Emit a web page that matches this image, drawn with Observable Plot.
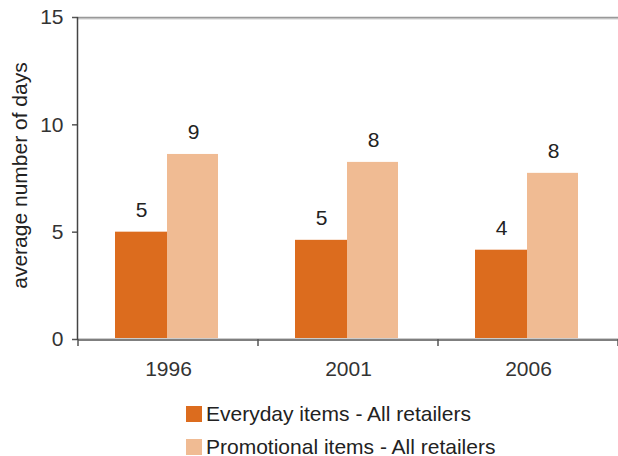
<!DOCTYPE html>
<html>
<head>
<meta charset="utf-8">
<script src="https://cdn.jsdelivr.net/npm/d3@7"></script>
<script src="https://cdn.jsdelivr.net/npm/@observablehq/plot@0.6"></script>
<style>
  html, body { margin: 0; padding: 0; background: #fff; }
  body { width: 618px; height: 456px; overflow: hidden; font-family: Arial, "Liberation Sans", sans-serif; }
  #legend { margin-left: 186px; padding-top: 13px; font-size: 21px; color: #222; }
  .row { display: flex; align-items: center; height: 33px; }
  .sw { width: 16px; height: 16px; margin-right: 4px; flex: none; }
</style>
</head>
<body>
<div id="chart"></div>
<div id="legend"></div>
<script>
const years = ["1996", "2001", "2006"];
const everyday = [5.0, 4.62, 4.16];
const promotional = [8.62, 8.25, 7.74];
const seriesNames = ["Everyday items - All retailers", "Promotional items - All retailers"];
const seriesColors = ["#dc6c1e", "#f0bb93"];
const yTicks = [0, 5, 10, 15];
const yLabel = "average number of days";

const rowsE = years.map((y, i) => ({year: y, value: everyday[i]}));
const rowsP = years.map((y, i) => ({year: y, value: promotional[i]}));

function bandAxis(index, scales, values, dimensions) {
  const g = d3.create("svg:g");
  const {width, height, marginLeft, marginRight, marginTop, marginBottom} = dimensions;
  const y0 = height - marginBottom;
  const bounds = years.map(d => scales.x(d)).concat([width - marginRight]);
  g.selectAll("line.tk").data(bounds).join("line")
    .attr("x1", d => d).attr("x2", d => d)
    .attr("y1", y0).attr("y2", y0 + 7)
    .attr("stroke", "#555").attr("stroke-width", 1.5);
  g.append("line")
    .attr("x1", marginLeft - 0.5).attr("x2", marginLeft - 0.5)
    .attr("y1", marginTop).attr("y2", y0 + 1)
    .attr("stroke", "#444").attr("stroke-width", 1.5);
  return g.node();
}

const chart = Plot.plot({
  width: 618,
  height: 384,
  marginLeft: 78,
  marginRight: 0,
  marginTop: 17,
  marginBottom: 45,
  style: {fontFamily: "Arial, 'Liberation Sans', sans-serif", color: "#333", background: "#fff"},
  x: {domain: years, padding: 0, label: null},
  y: {domain: [0, 15], ticks: yTicks, label: null},
  marks: [
    Plot.ruleY([15], {stroke: "#d0d0d0", strokeWidth: 2, dy: 1}),
    Plot.ruleY([15], {stroke: "#999", strokeWidth: 1.5}),
    Plot.barY(rowsE, {x: "year", y: "value", fill: seriesColors[0], insetLeft: 37, insetRight: 91}),
    Plot.barY(rowsP, {x: "year", y: "value", fill: seriesColors[1], insetLeft: 89, insetRight: 40}),
    Plot.ruleY([0], {stroke: "#ccc", strokeWidth: 1, dy: -1}),
    Plot.ruleY([0], {stroke: "#555", strokeWidth: 1.5, dy: 0.5}),
    Plot.text(rowsE, {x: "year", y: "value", text: d => String(Math.round(d.value)), dx: -27, dy: -22, fontSize: 21, fill: "#222"}),
    Plot.text(rowsP, {x: "year", y: "value", text: d => String(Math.round(d.value)), dx: 25, dy: -22, fontSize: 21, fill: "#222"}),
    Plot.axisY({ticks: yTicks, tickSize: 6, tickPadding: 9, fontSize: 21, label: null, stroke: "#555", strokeWidth: 1.5}),
    Plot.axisX({tickSize: 0, tickPadding: 22, fontSize: 21, label: null}),
    Plot.text([yLabel], {frameAnchor: "left", textAnchor: "middle", rotate: -90, dx: -58, dy: -3, fontSize: 21, fill: "#222"}),
    bandAxis
  ]
});
document.getElementById("chart").appendChild(chart);

const legend = d3.select("#legend");
seriesNames.forEach((name, i) => {
  const row = legend.append("div").attr("class", "row");
  row.append("div").attr("class", "sw").style("background", seriesColors[i]);
  row.append("span").text(name);
});
</script>
</body>
</html>
